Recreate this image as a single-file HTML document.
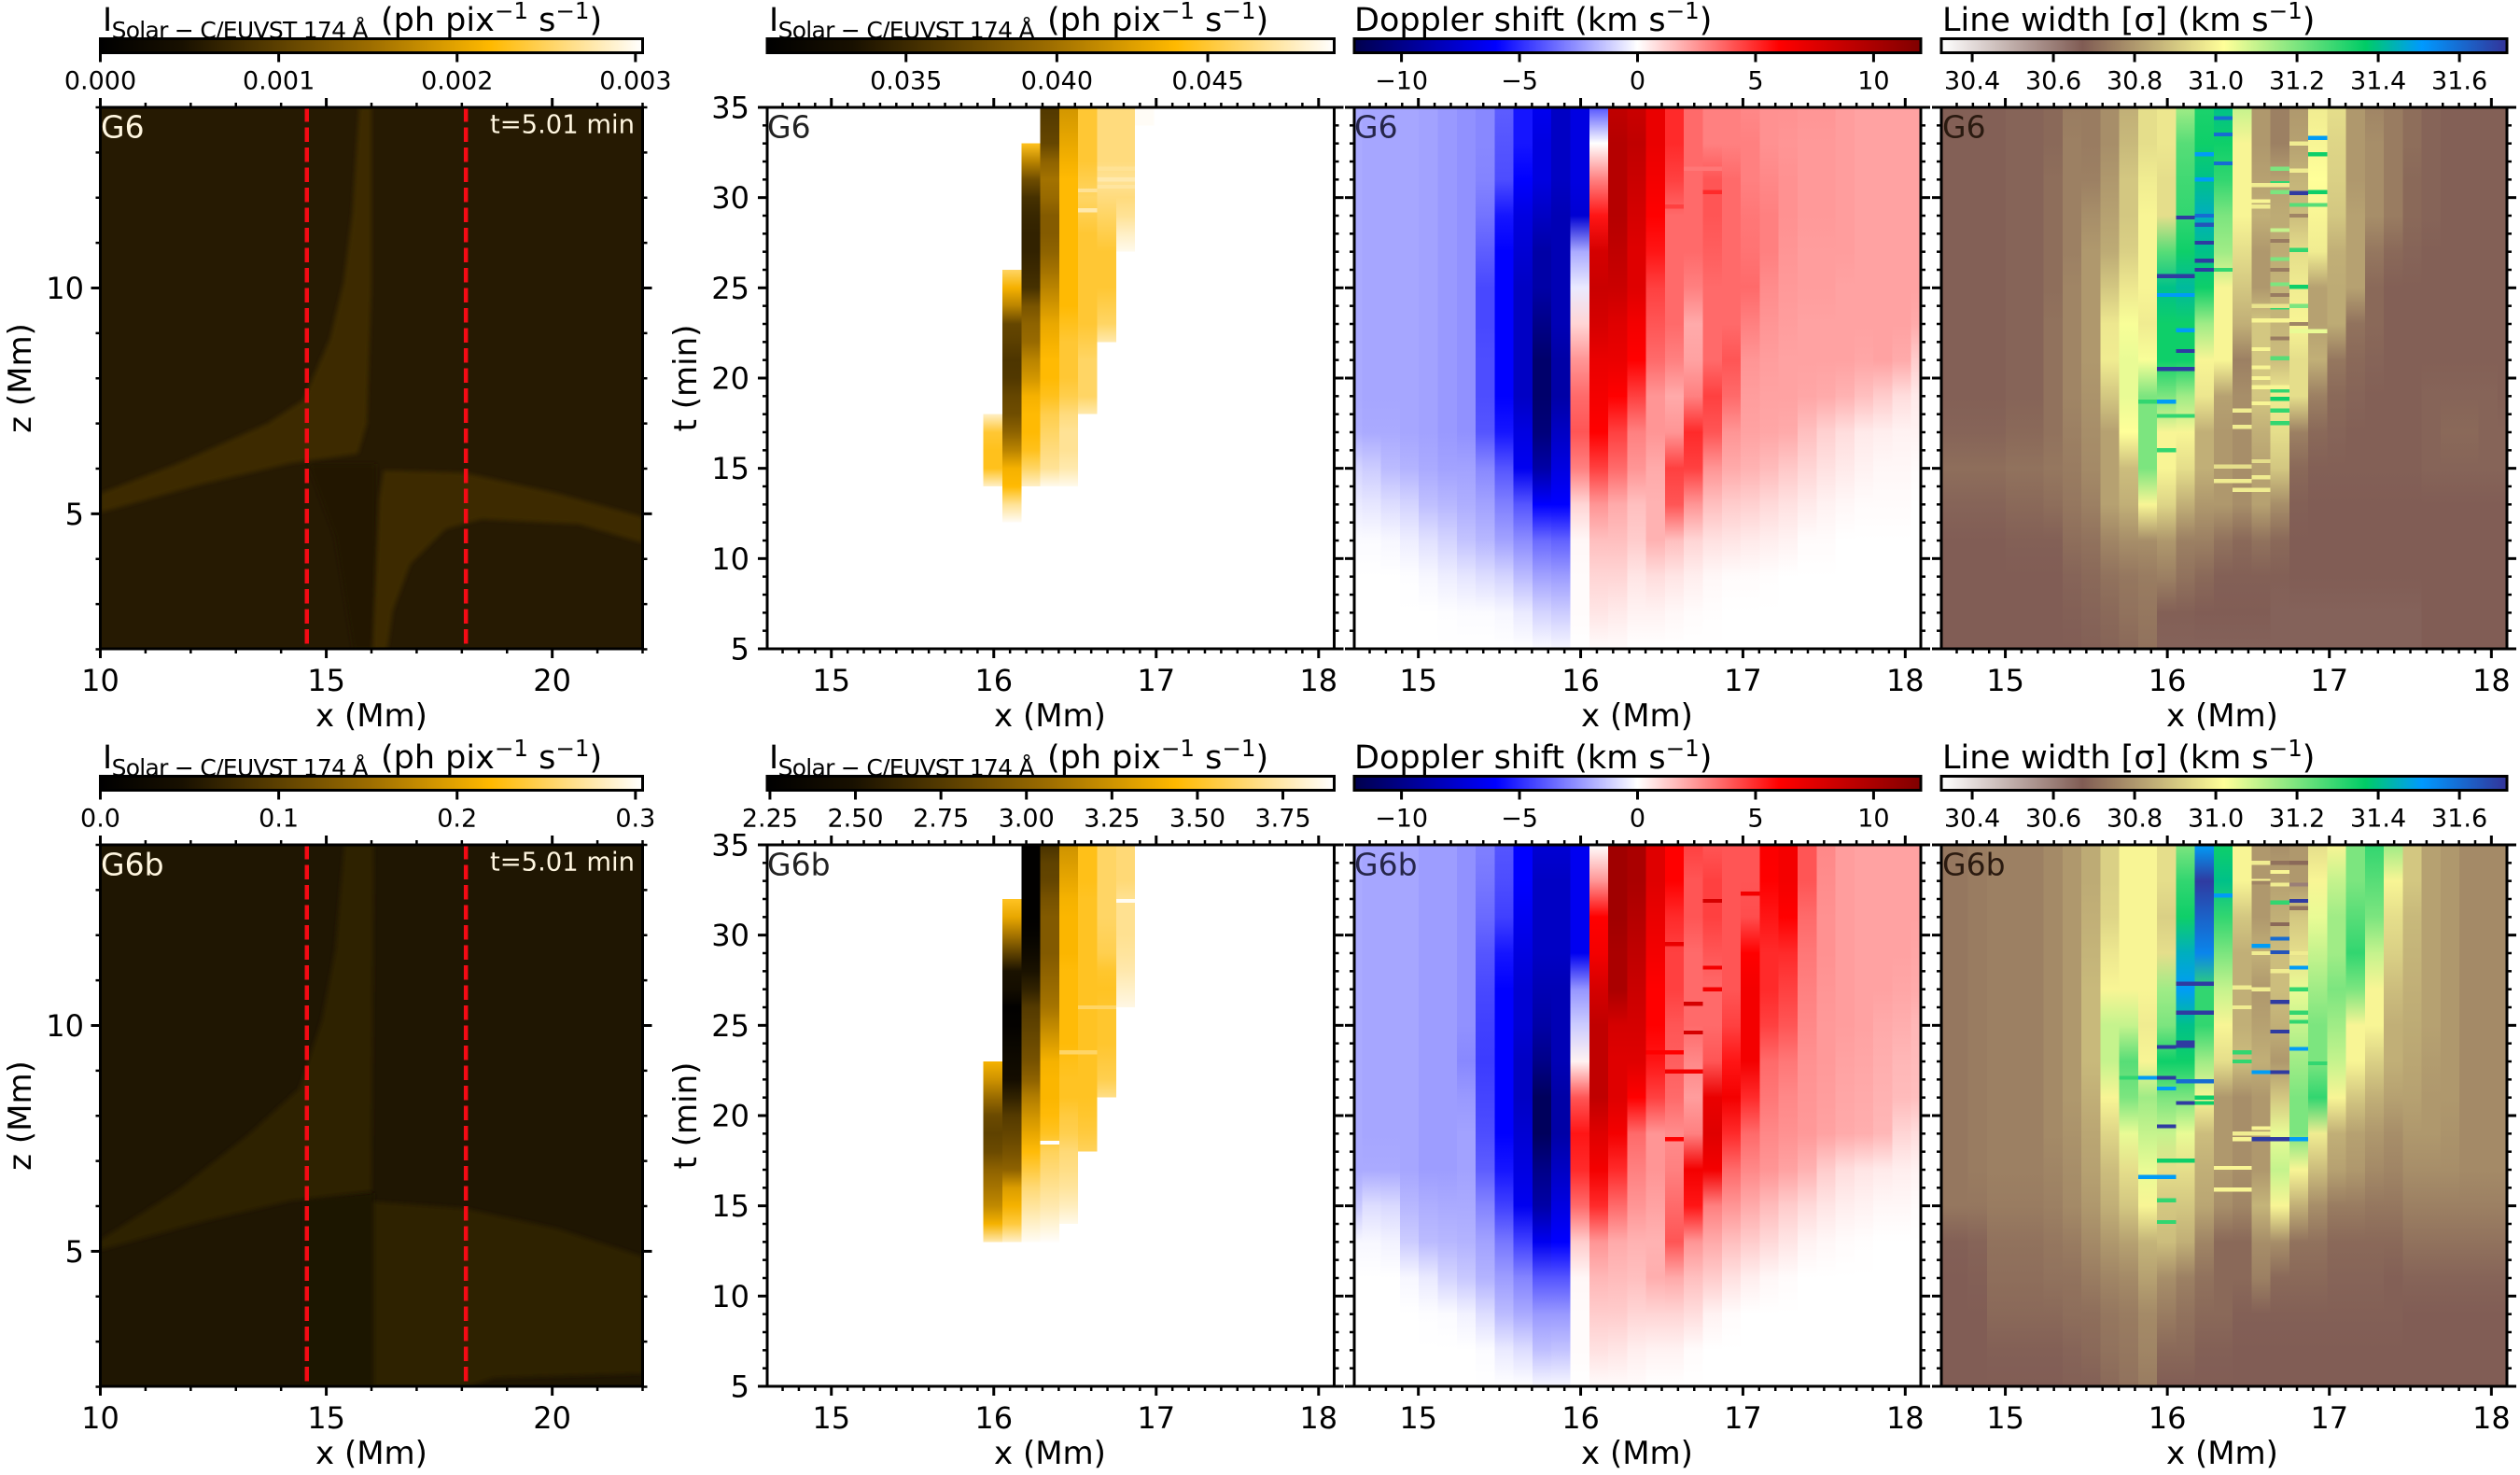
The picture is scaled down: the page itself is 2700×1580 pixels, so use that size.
<!DOCTYPE html>
<html lang="en">
<head>
<meta charset="utf-8">
<title>Solar-C/EUVST 174 Å synthetic observables, G6 and G6b</title>
<style>
html,body{margin:0;padding:0;background:#fff}
svg{display:block}
text{font-family:"DejaVu Sans","Liberation Sans",sans-serif}
</style>
</head>
<body>
<svg id="figure" xmlns="http://www.w3.org/2000/svg" width="2700" height="1580" viewBox="0 0 2700 1580">
<rect x="0" y="0" width="2700" height="1580" fill="#ffffff"/>
<defs id="defs"><filter id="soft"><feGaussianBlur stdDeviation="2.5"/></filter></defs>
</svg>
<script>
const _ = null;
// ---- shared axes values ----
const tSamples = [35,33,31,29,27,25,23,21,19,17,15,13,11,9,7,5];
const tFine = [35,34,33,32,31,30,29,28,27,26,25,24,23,22,21,20,19,18,17,16,15,14,13,12];
const firstColumnEdge = 14.536;
const columnWidth = 0.1167;
const slitPositions = [14.57, 18.09];
const mapXTicks = [10,15,20];
const mapXMinor = [11,12,13,14,16,17,18,19,21,22];
const mapZTicks = [5,10];
const mapZMinor = [2,3,4,6,7,8,9,11,12,13,14];
const stackXTicks = [15,16,17,18];
const stackTTicks = [5,10,15,20,25,30,35];
const dopplerTicks = [-10,-5,0,5,10];
const dopplerTickLabels = ['−10','−5','0','5','10'];
const widthTicks = [30.4,30.6,30.8,31.0,31.2,31.4,31.6];
const widthTickLabels = ['30.4','30.6','30.8','31.0','31.2','31.4','31.6'];
const mapCbarTicksG6 = [0,0.001,0.002,0.003];
const mapCbarLabelsG6 = ['0.000','0.001','0.002','0.003'];
const mapCbarTicksG6b = [0,0.1,0.2,0.3];
const mapCbarLabelsG6b = ['0.0','0.1','0.2','0.3'];
const intensityTicksG6 = [0.035,0.040,0.045];
const intensityLabelsG6 = ['0.035','0.040','0.045'];
const intensityTicksG6b = [2.25,2.5,2.75,3,3.25,3.5,3.75];
const intensityLabelsG6b = ['2.25','2.50','2.75','3.00','3.25','3.50','3.75'];

// ---- map panel outlines [x Mm, z Mm] ----
const bandUpperG6 = [[10,5.03],[12.22,5.65],[14.2,6.12],[15.7,6.33],[15.9,7],[16,10.1],[16,14],[15.73,14],[15.58,11.67],[15.38,10.11],[15.08,8.87],[14.49,7.52],[13.7,7],[11.73,6.12],[10,5.45]];
const bandLowerG6 = [[16.17,5.34],[16.27,5.96],[18.05,5.91],[20.12,5.45],[22,4.93],[22,4.36],[20.6,4.77],[18.44,4.88],[17.65,4.67],[16.86,3.89],[16.47,2.85],[16.35,2],[16.02,2]];
const shadeG6 = [[14.6,6.1],[16.1,6.1],[16.1,2],[15.6,2],[15.2,4.5]];
const bandUpperG6b = [[10,5.03],[12.22,5.65],[14.2,6.12],[16,6.33],[16.05,14],[15.4,14],[15.2,11.67],[14.9,10.1],[14.4,8.6],[13.3,7.6],[11.73,6.36],[10,5.25]];
const bandLowerG6b = [[16.05,6.1],[18.05,5.95],[20.12,5.5],[22,4.88],[22,2.3],[18.7,2.2],[18.1,2],[16.05,2]];
const shadeG6b = [[14.5,6.15],[16.05,6.3],[16.05,2],[14.5,2]];

// ---- intensity time-distance values, columns 12..20 ----
const intensityG6 = [
[_,_,_,_,_,_,_,_,_,_,_,_,_,_,_,_,_,48,45,44.5,44.5,48,_,_],
[_,_,_,_,_,_,_,_,_,46,43.5,41,37,36.5,35.8,36,37,37.5,39,41,43.5,44,47,49],
[_,_,44.5,41,37.5,35.5,34.8,34.5,34.5,35,35.5,38,39,39.5,41,42,43.5,44,44,44.5,46,48,_,_],
[36,36.5,37,39,40,39.5,38.5,38.5,39,40,41,42,43,43.5,44,44,44.5,45.5,46,46.5,47,48.8,_,_],
[42,42.5,43,43.5,44,44,44,44,44,44,44,44,44.5,45,45,45,45.5,46.5,47,47,47.5,48.8,_,_],
[45,45,45,45,45.5,46,45.5,45,45,45,45,45,45,45.5,46,46,46,47.5,_,_,_,_,_,_],
[46.5,46.5,46.5,46.5,47,46.5,46,45.5,45,45,45,45.5,46,47.5,_,_,_,_,_,_,_,_,_,_],
[46.5,46.5,46.5,46.5,47,46.5,47,48,48.8,_,_,_,_,_,_,_,_,_,_,_,_,_,_,_],
[49,49,_,_,_,_,_,_,_,_,_,_,_,_,_,_,_,_,_,_,_,_,_,_]
];
const intensityG6b = [
[_,_,_,_,_,_,_,_,_,_,_,_,3.4,3.25,3.05,2.85,2.8,2.85,3,3.1,3.2,3.4,3.75,_],
[_,_,_,3.5,3.35,3.1,2.8,2.5,2.45,2.26,2.28,2.35,2.4,2.45,2.6,2.75,2.82,2.9,3,3.3,3.4,3.55,3.8,_],
[2.26,2.26,2.26,2.26,2.26,2.3,2.4,2.5,2.6,2.75,2.8,2.85,2.9,3,3.15,3.25,3.35,3.45,3.55,3.65,3.72,3.8,3.88,_],
[2.7,2.8,2.82,2.9,2.95,2.95,2.95,3,3.05,3.1,3.2,3.3,3.4,3.42,3.42,3.45,3.5,3.6,3.65,3.7,3.75,3.82,3.89,_],
[3.25,3.3,3.35,3.4,3.42,3.42,3.42,3.45,3.45,3.45,3.45,3.45,3.48,3.5,3.5,3.55,3.58,3.65,3.68,3.72,3.78,3.86,_,_],
[3.48,3.48,3.48,3.5,3.5,3.5,3.5,3.5,3.5,3.5,3.5,3.5,3.5,3.5,3.5,3.52,3.55,3.6,_,_,_,_,_,_],
[3.62,3.62,3.62,3.62,3.62,3.6,3.58,3.52,3.5,3.52,3.52,3.52,3.55,3.58,3.68,_,_,_,_,_,_,_,_,_],
[3.65,3.65,3.65,3.7,3.7,3.7,3.72,3.75,3.8,3.85,_,_,_,_,_,_,_,_,_,_,_,_,_,_]
];
// streaks: [first column, last column, time, value]
const intensityStreaksG6 = [[18,19,31.6,47],[18,19,31,47.5],[18,19,30.6,47.2],[17,17,30.4,47],[17,17,29.3,47.5]];
const intensityStreaksG6b = [[15,15,18.5,3.9],[19,19,31.9,3.88],[16,17,23.5,3.62],[17,18,26,3.62]];

// ---- Doppler values (km/s), columns 0..30, rows follow tSamples ----
const dopplerG6 = [
[-2,-2,-2,-2,-2,-2,-2,-2,-2,-1.9,-1,-.5,-.1,0,0,0],
[-2.1,-2.1,-2.1,-2.1,-2.1,-2.1,-2.1,-2.1,-2.1,-2,-1.2,-.6,-.1,0,0,0],
[-2.1,-2.1,-2.1,-2.1,-2.1,-2.1,-2.1,-2.1,-2.1,-2,-1.6,-.8,-.2,0,0,0],
[-2.1,-2.1,-2.1,-2.1,-2.1,-2.1,-2.1,-2.1,-2.1,-2.1,-1.8,-1,-.4,-.05,0,0],
[-2.2,-2.2,-2.2,-2.2,-2.2,-2.2,-2.2,-2.2,-2.2,-2.2,-2,-1.5,-.7,-.2,0,0],
[-2.4,-2.4,-2.4,-2.4,-2.4,-2.4,-2.4,-2.4,-2.4,-2.4,-2.2,-1.7,-1,-.4,-.05,0],
[-2.6,-2.6,-2.6,-2.6,-2.6,-2.6,-2.6,-2.6,-2.6,-2.6,-2.2,-1.9,-1.4,-.6,-.1,0],
[-2.8,-2.8,-2.9,-3.3,-3.8,-4.3,-4.3,-4.2,-4.2,-4,-2.8,-2.2,-1.7,-.8,-.1,0],
[-3.8,-4,-4.2,-5.5,-6,-6,-6,-6,-6,-5.5,-4,-3,-2.2,-1,-.2,0],
[-5.5,-5.5,-6,-7,-7.5,-8,-8,-8,-8,-7,-6.5,-4,-2.7,-1.6,-.5,0],
[-6.5,-7,-7,-8,-9,-9,-10,-11,-11,-10.5,-9,-6,-3.5,-2.2,-1,-.1],
[-8,-8,-8,-8.5,-8.5,-8.5,-8.5,-9,-9,-8,-7,-6,-3.7,-2.3,-1.2,-.2],
[-7,-7,-7,-7.5,-2,-.5,1,2.5,3.5,4,3,1,.2,.1,.1,0],
[-4,0,3,5.5,8,8.5,8,7,6.5,6,4.5,2.5,1.5,1,.6,.1],
[9,9.5,9.5,9.5,9,8.5,7.5,7,6,4.5,3.5,2,1.5,1,.5,.1],
[8.5,9,8.5,8,7.5,7.5,6.5,6,4.5,3,2.5,1.5,1.2,.6,.3,0],
[7,7,6.5,6,5.5,4.5,4,3.5,2.5,2.5,2,1.8,1.8,.8,.3,0],
[5,5,4.5,3.5,3.5,3.5,3.5,3,2,2.5,4.5,4,1.5,.6,.2,0],
[3.5,3.5,3.5,3.5,3.5,3,2,2.2,3,5,4.5,2.5,1,.4,.1,0],
[3,3,4,4,3.8,3.5,3.5,3.5,4.5,4,2.5,1.5,.7,.2,.05,0],
[3,3,3.5,3.5,3.5,3.5,3.5,4,3.5,2.5,2,1.2,.6,.1,0,0],
[2.8,3,3,3.2,3.3,3.5,3,2.5,2.3,2.2,1.8,1.1,.5,.1,0,0],
[2.6,2.6,2.8,3,3,2.7,2.5,2.3,2.2,2.1,1.6,.9,.4,.05,0,0],
[2.6,2.5,2.6,2.6,2.5,2.4,2.3,2.2,2.2,2,1.3,.7,.3,0,0,0],
[2.5,2.4,2.4,2.4,2.3,2.3,2.2,2.2,2.1,1.5,1,.5,.1,0,0,0],
[2.5,2.4,2.4,2.4,2.3,2.3,2.2,2.2,2,1.1,.7,.3,.1,0,0,0],
[2.3,2.3,2.3,2.3,2.3,2.2,2.2,2.2,1.8,.8,.5,.2,0,0,0,0],
[2.2,2.2,2.2,2.2,2.2,2.2,2.2,2.1,1.5,.5,.3,.1,0,0,0,0],
[2.2,2.2,2.2,2.2,2.2,2.2,2.2,2.2,1.2,.4,.2,.1,0,0,0,0],
[2.2,2.2,2.2,2.2,2.2,2.2,2.2,2,.8,.3,.2,.1,0,0,0,0],
[2.2,2.2,2.2,2.2,2.2,2.2,2,1.2,.5,.3,.1,0,0,0,0,0]
];
const dopplerG6b = [
[-2,-2,-2,-2,-2,-2,-2,-2,-2,-2,-1.3,-.2,0,0,0,0],
[-2.1,-2.1,-2.1,-2.1,-2.1,-2.1,-2.1,-2.1,-2.1,-2,-.8,-.2,0,0,0,0],
[-2.1,-2.1,-2.1,-2.1,-2.1,-2.1,-2.1,-2.1,-2.1,-2,-.9,-.3,0,0,0,0],
[-2.1,-2.1,-2.1,-2.1,-2.1,-2.1,-2.1,-2.1,-2.1,-2.1,-1.7,-1.2,-.2,0,0,0],
[-2.3,-2.3,-2.3,-2.3,-2.3,-2.3,-2.3,-2.3,-2.3,-2.3,-1.9,-1.6,-.5,-.05,0,0],
[-2.3,-2.3,-2.3,-2.3,-2.3,-2.3,-2.3,-2.3,-2.3,-2.3,-2,-1.7,-1,-.1,0,0],
[-2.6,-2.6,-2.6,-2.6,-2.6,-2.6,-2.8,-2.4,-2.2,-2.2,-2,-1.8,-1.3,-.3,0,0],
[-3,-3.2,-3.5,-4,-4.3,-4.5,-4.6,-4.4,-4.2,-3.8,-2.9,-2.2,-1.8,-.8,-.1,0],
[-4,-4.2,-4.5,-5.5,-6,-6,-6,-6,-6,-5.5,-4.5,-3.2,-2.3,-1.6,-.5,0],
[-6,-6,-6.5,-7,-7.5,-7.5,-8,-8,-7.5,-7,-6.5,-4.5,-2.9,-2,-.8,0],
[-7.5,-8,-8,-8,-8.5,-9,-10,-11.5,-11.5,-10,-9,-6.5,-4,-2.4,-1.5,-.2],
[-7.5,-8,-8,-8,-8.5,-8.5,-8.5,-9,-9,-8,-7,-6,-4,-2.4,-1.4,-.2],
[-6.5,-6.5,-6.5,-6.5,-2.5,-1.2,.3,4,5.5,5,3.5,1.2,.2,.1,.1,0],
[0,2.5,6,6.5,8,9,9,9,7.5,6.5,5,2.5,1.7,1.2,.7,.1],
[10.5,10.5,10.5,10,10,8,7.5,7.5,6.5,5,3.5,2,1.6,1.2,.6,.1],
[10,10,9.5,9,8.5,8,7.5,6,3.5,3,2.5,1.8,1.5,1,.4,.1],
[7.5,7.5,7,6.5,6,6,5.5,4.5,2.5,2.5,2.2,1.8,1.9,1,.3,0],
[6,6,5,4.5,4.5,4,3.8,3.5,2.7,3,3.5,4,2,1,.3,0],
[4.5,4,4,3.5,3.5,3.5,2.8,2.3,3,6.5,5.5,2.5,1.5,.8,.1,0],
[4,4.5,4.5,4,3.5,3.5,4,7,7.5,6.5,3,2,1.2,.3,0,0],
[4,4,4,4,4,4.5,5.5,6.5,5,3.5,2.5,1.5,.7,.1,0,0],
[4,4,4.2,6,6.5,6.5,6.5,5,3.5,2.8,2,1.2,.4,0,0,0],
[6.2,6,5.5,5,5,4.5,3.5,3.2,2.8,2.5,1.6,.9,.2,0,0,0],
[6.5,6.5,6,5,4.5,4,3.2,2.8,2.6,2.2,1.2,.6,.1,0,0,0],
[4,4,3.5,3.2,3,2.8,2.6,2.5,2.4,1.8,.9,.3,0,0,0,0],
[2.8,2.7,2.6,2.6,2.5,2.4,2.4,2.3,2.2,1.2,.6,.2,0,0,0,0],
[2.3,2.3,2.3,2.3,2.3,2.3,2.2,2.1,2,.8,.4,.1,0,0,0,0],
[2.2,2.2,2.2,2.2,2.2,2.2,2.1,2,1.9,.6,.3,.05,0,0,0,0],
[2.2,2.2,2.2,2.2,2.2,2,1.9,1.8,1.7,.5,.2,0,0,0,0,0],
[2.2,2.2,2.2,2.2,2.1,1.9,1.7,1.6,1,.4,.2,0,0,0,0,0],
[2.2,2.2,2.2,2.1,2,1.7,1.6,1.5,.8,.3,.1,0,0,0,0,0]
];
const dopplerStreaksG6 = [[19,19,30.3,5],[17,17,29.5,4.5],[18,19,31.6,3.2]];
const dopplerStreaksG6b = [[19,19,31.9,8],[17,17,29.5,7],[19,19,28.2,6.5],[19,19,27,6.5],[18,18,26.2,8],[18,18,24.6,8],[16,17,23.5,6],[17,18,22.45,6.5],[21,21,32.3,6.5],[17,17,18.7,6]];

// ---- Line width values (km/s), columns 0..30, rows follow tSamples ----
const widthG6 = [
[30.68,30.68,30.68,30.68,30.68,30.68,30.68,30.68,30.68,30.69,30.71,30.69,30.67,30.67,30.67,30.67],
[30.68,30.68,30.68,30.68,30.68,30.68,30.68,30.68,30.68,30.69,30.71,30.69,30.67,30.67,30.67,30.67],
[30.68,30.68,30.68,30.68,30.68,30.68,30.68,30.68,30.68,30.69,30.71,30.69,30.67,30.67,30.67,30.67],
[30.68,30.68,30.68,30.68,30.68,30.68,30.68,30.68,30.68,30.69,30.71,30.69,30.67,30.67,30.67,30.67],
[30.69,30.69,30.69,30.69,30.69,30.69,30.69,30.69,30.69,30.7,30.72,30.7,30.68,30.67,30.67,30.67],
[30.69,30.69,30.69,30.69,30.69,30.69,30.69,30.69,30.69,30.7,30.72,30.7,30.68,30.67,30.67,30.67],
[30.7,30.7,30.71,30.71,30.71,30.71,30.72,30.72,30.72,30.72,30.73,30.71,30.68,30.67,30.67,30.67],
[30.74,30.75,30.75,30.75,30.75,30.76,30.76,30.76,30.76,30.75,30.74,30.73,30.71,30.69,30.68,30.67],
[30.74,30.74,30.75,30.78,30.8,30.8,30.8,30.8,30.79,30.78,30.77,30.75,30.72,30.7,30.69,30.68],
[30.78,30.78,30.8,30.82,30.84,30.9,30.97,30.98,30.9,30.82,30.82,30.82,30.76,30.72,30.7,30.69],
[30.85,30.87,30.9,30.9,30.92,30.97,31.03,31.05,31.05,31.02,30.88,30.85,30.78,30.73,30.72,30.7],
[30.95,30.95,30.98,31,31,31,30.98,31.03,31.2,31.2,31.2,31,30.78,30.74,30.73,30.72],
[30.97,30.97,30.95,30.95,31.25,31.4,31.35,31.35,31.2,31,31,30.93,30.8,30.75,30.68,30.66],
[31.15,31.25,31.28,31.3,31.35,31.42,31.35,31.35,31.15,31,30.95,30.85,30.75,30.72,30.68,30.66],
[31.33,31.35,31.4,31.45,31.4,31.35,31.15,31,30.97,30.85,30.85,30.8,30.75,30.7,30.67,30.66],
[31.4,31.35,31.3,31.2,31.15,31,31,31,30.82,30.8,30.8,30.8,30.72,30.68,30.67,30.66],
[31.1,31,31,31,30.95,30.9,30.85,30.75,30.78,30.78,30.78,30.78,30.7,30.68,30.67,30.66],
[30.8,30.8,30.82,30.85,30.8,30.8,30.9,30.9,30.9,30.85,30.82,30.82,30.72,30.68,30.67,30.66],
[30.75,30.75,30.82,30.84,30.84,30.86,30.86,30.88,30.98,30.95,30.9,30.78,30.7,30.68,30.66,30.66],
[30.8,30.82,30.86,30.88,30.95,30.98,31,30.95,30.95,30.75,30.7,30.68,30.67,30.67,30.66,30.66],
[30.98,31,31.02,31,30.98,30.82,30.82,30.85,30.75,30.7,30.68,30.67,30.67,30.67,30.66,30.66],
[30.95,30.93,30.92,30.9,30.85,30.84,30.84,30.73,30.7,30.69,30.68,30.67,30.67,30.67,30.66,30.66],
[30.8,30.8,30.8,30.82,30.82,30.82,30.72,30.7,30.69,30.68,30.68,30.67,30.67,30.67,30.66,30.66],
[30.76,30.78,30.78,30.78,30.73,30.7,30.7,30.69,30.68,30.68,30.68,30.67,30.67,30.67,30.66,30.66],
[30.74,30.74,30.74,30.74,30.7,30.68,30.68,30.68,30.68,30.68,30.68,30.67,30.67,30.67,30.66,30.66],
[30.71,30.71,30.7,30.7,30.69,30.68,30.68,30.68,30.68,30.68,30.68,30.67,30.67,30.67,30.66,30.66],
[30.69,30.69,30.69,30.69,30.68,30.68,30.68,30.68,30.69,30.69,30.69,30.67,30.67,30.67,30.67,30.67],
[30.68,30.68,30.68,30.68,30.68,30.68,30.68,30.68,30.69,30.7,30.69,30.67,30.67,30.67,30.67,30.67],
[30.68,30.68,30.68,30.68,30.68,30.68,30.68,30.68,30.69,30.7,30.69,30.67,30.67,30.67,30.67,30.67],
[30.68,30.68,30.68,30.68,30.68,30.68,30.68,30.68,30.69,30.69,30.69,30.67,30.67,30.67,30.67,30.67],
[30.68,30.68,30.68,30.68,30.68,30.68,30.68,30.68,30.68,30.69,30.69,30.67,30.67,30.67,30.67,30.67]
];
const widthG6b = [
[30.73,30.73,30.73,30.73,30.73,30.73,30.73,30.73,30.73,30.73,30.73,30.68,30.67,30.67,30.67,30.67],
[30.73,30.73,30.73,30.73,30.73,30.73,30.73,30.73,30.73,30.73,30.73,30.68,30.67,30.67,30.67,30.67],
[30.74,30.74,30.74,30.74,30.74,30.74,30.74,30.74,30.74,30.74,30.73,30.69,30.68,30.67,30.67,30.67],
[30.75,30.75,30.75,30.75,30.75,30.75,30.75,30.75,30.75,30.75,30.74,30.72,30.71,30.7,30.68,30.67],
[30.75,30.75,30.75,30.75,30.75,30.75,30.75,30.75,30.75,30.75,30.74,30.72,30.71,30.7,30.68,30.67],
[30.75,30.75,30.75,30.75,30.75,30.75,30.75,30.75,30.75,30.75,30.74,30.72,30.71,30.7,30.68,30.67],
[30.77,30.77,30.77,30.77,30.77,30.77,30.77,30.77,30.77,30.76,30.75,30.73,30.72,30.7,30.68,30.67],
[30.8,30.8,30.8,30.8,30.8,30.8,30.8,30.8,30.79,30.78,30.77,30.74,30.72,30.71,30.69,30.68],
[30.84,30.84,30.85,30.86,30.87,30.87,30.87,30.85,30.83,30.82,30.8,30.77,30.74,30.71,30.7,30.68],
[30.92,30.92,30.93,30.97,31,31.1,31.1,31,30.93,30.88,30.85,30.8,30.76,30.73,30.72,30.7],
[31,31,31,31,31,31.1,31.25,31.2,31.05,30.95,30.9,30.82,30.77,30.74,30.73,30.72],
[31,31,31,31,31,30.98,31,31.15,31.1,31.05,31,30.86,30.82,30.77,30.76,30.74],
[30.95,30.95,30.92,30.95,31.15,31.2,31.35,31.2,31.1,30.95,30.9,30.88,30.78,30.74,30.7,30.67],
[31.2,31.3,31.35,31.45,31.5,31.4,31.35,31.2,31.05,30.95,30.9,30.85,30.75,30.72,30.7,30.67],
[31.5,31.7,31.62,31.55,31.3,31.3,31.15,31,30.88,30.85,30.83,30.76,30.72,30.7,30.68,30.67],
[31.35,31.4,31.3,31.2,31.1,31,30.95,30.8,30.8,30.8,30.78,30.7,30.7,30.7,30.68,30.67],
[31,31,30.9,30.85,30.85,30.85,30.88,30.78,30.78,30.78,30.76,30.7,30.7,30.68,30.67,30.67],
[30.8,30.8,30.8,30.85,30.8,30.82,30.85,30.8,30.8,30.8,30.86,30.78,30.75,30.68,30.67,30.67],
[30.78,30.82,30.85,30.88,30.88,30.85,30.8,30.9,31.05,31.1,31,30.78,30.7,30.68,30.67,30.67],
[30.8,30.8,30.9,30.95,31.05,31.1,31.15,31.2,31.2,31,30.85,30.72,30.7,30.68,30.67,30.67],
[30.95,31,31.05,31.1,31.15,31.2,31.2,31.3,30.98,30.88,30.78,30.72,30.7,30.68,30.67,30.67],
[31,31.1,31.15,31.15,31.2,31.15,31.1,31,30.85,30.82,30.74,30.7,30.69,30.68,30.67,30.67],
[31.2,31.2,31.25,31.3,31.2,31,31,30.9,30.82,30.8,30.74,30.7,30.69,30.68,30.67,30.67],
[31.3,31.25,31.2,31.1,31,31,30.92,30.85,30.8,30.77,30.73,30.7,30.69,30.68,30.67,30.67],
[31.15,31,30.95,30.92,30.88,30.85,30.85,30.82,30.78,30.76,30.73,30.7,30.68,30.68,30.67,30.67],
[30.9,30.9,30.87,30.86,30.85,30.84,30.83,30.82,30.8,30.78,30.75,30.72,30.69,30.67,30.67,30.67],
[30.82,30.82,30.82,30.82,30.82,30.82,30.81,30.8,30.8,30.78,30.75,30.72,30.69,30.67,30.67,30.67],
[30.8,30.8,30.8,30.8,30.8,30.8,30.8,30.8,30.79,30.78,30.75,30.72,30.69,30.67,30.67,30.67],
[30.77,30.77,30.77,30.77,30.77,30.77,30.77,30.77,30.77,30.77,30.75,30.72,30.69,30.67,30.67,30.67],
[30.77,30.77,30.77,30.77,30.77,30.77,30.77,30.77,30.77,30.77,30.75,30.72,30.69,30.67,30.67,30.67],
[30.77,30.77,30.77,30.77,30.77,30.77,30.77,30.77,30.77,30.77,30.75,30.72,30.69,30.67,30.67,30.67]
];
const widthStreaksG6 = [
[14,14,32.4,31.5],[14,14,31,31.5],[14,14,29,31.6],[14,14,28.5,31.65],[14,14,27.5,31.7],[14,14,26.5,31.7],[14,14,26,31.7],
[13,13,28.9,31.7],[12,13,25.65,31.7],[12,13,24.6,31.5],[15,15,34.4,31.6],[15,15,33.5,31.6],[15,15,31.9,31.6],[12,13,20.5,31.7],
[13,13,21.5,31.7],[13,13,22.65,31.5],[12,12,18.7,31.5],[11,11,18.7,31.3],[12,13,17.9,31.3],[12,12,16,31.3],[20,20,33.3,31.5],
[20,20,32.4,31.35],[20,20,30.3,31.35],[19,19,30.25,31.7],[19,20,29.6,31.25],[18,18,31.6,31.2],[18,18,30.8,31.3],[18,18,30.3,31.2],
[18,18,28.2,31.1],[18,18,26.6,31.2],[18,18,25.2,31.2],[18,18,23.9,31.3],[18,18,21.1,31.25],[18,18,19.3,31.3],[18,18,18.85,31.35],
[18,18,18.2,31.3],[18,18,17.5,31.3],[19,19,25.05,31.35],[19,19,27.1,31.3],[15,16,14.3,30.98],[15,15,26,31.3],[17,17,29.5,30.98],
[16,16,17.3,30.98],[17,17,20.6,31],[15,16,15.1,30.95],[17,18,24,30.96],[19,19,33,30.98],[19,19,31.5,30.98],[17,17,15.4,30.95],
[17,18,30.7,30.98],[17,17,29.8,31],[17,18,23.2,31],[17,17,21.6,31],[17,17,20,31],[17,18,19.5,31],[17,17,18.6,31],[16,17,13.8,30.98],
[17,17,14.5,30.98],[16,16,18.2,30.98],[19,19,24,31.2],[19,20,22.6,31.05],[18,18,27.6,30.74],[18,18,26,30.74],[19,19,29,30.76],
[19,19,23,30.76],[18,18,22.2,30.74],[18,18,24.6,30.74]
];
const widthStreaksG6b = [
[13,14,27.3,31.7],[13,14,25.7,31.7],[13,13,24.05,31.7],[13,13,23.85,31.7],[12,12,23.8,31.7],[10,10,22.1,31.3],[11,11,22.1,31.5],[12,12,22.1,31.7],
[12,12,21.5,31.5],[13,14,21.9,31.6],[13,13,20.7,31.7],[14,14,21,31.35],[14,14,20.7,31.35],[12,12,19.4,31.7],[12,13,17.5,31.35],[11,12,16.6,31.5],
[12,12,15.3,31.3],[12,12,14.1,31.3],[15,15,32.2,31.5],[17,17,29.4,31.5],[18,18,29.8,31.6],[18,18,29.05,31.65],[19,19,31.9,31.7],[19,19,28.2,31.5],
[18,18,26.3,31.7],[18,18,24.65,31.7],[18,18,22.4,31.7],[17,17,22.4,31.5],[17,18,18.7,31.7],[19,19,18.7,31.5],[19,19,23.7,31.5],[16,16,23.5,31.3],
[16,16,23,31.3],[18,18,31.8,31.3],[15,16,15.9,31],[15,16,17.1,31],[19,19,25.2,31.3],[20,20,22.9,31.3],[17,17,33,31],[18,18,33.5,31],[19,19,32.8,30.6],
[17,17,19.3,31],[16,16,18.7,31],[17,17,34,30.98],[17,17,32.9,30.76],[18,18,34,30.72],[19,19,34,30.7],[18,18,32.8,30.98],[19,19,31.5,30.72],
[18,18,30.6,30.7],[17,17,29,30.98],[17,17,27,30.98],[16,16,27.1,30.98],[16,16,26,30.98],[19,19,29,30.98],[18,18,28,30.98],[19,19,27,31.3],[19,19,25.7,31.3],[16,17,19,30.98]
];

// ---- colormaps ----
const sunStops = [[0,[0,0,0]],[.15,[24,16,0]],[.5,[158,110,0]],[.72,[255,185,0]],[1,[255,255,255]]];
const seismicStops = [[0,[0,0,77]],[.25,[0,0,255]],[.5,[255,255,255]],[.75,[255,0,0]],[1,[128,0,0]]];
const terrainStops = [[0,[255,255,255]],[.25,[128,92,84]],[.5,[255,255,153]],[.75,[0,204,102]],[.85,[0,153,255]],[1,[51,51,153]]];

const NS = 'http://www.w3.org/2000/svg';
const fig = document.getElementById('figure');
const defs = document.getElementById('defs');

function scale(d0, d1, r0, r1) { return v => r0 + (v - d0) / (d1 - d0) * (r1 - r0); }
function cmap(stops, p) {
  p = Math.max(0, Math.min(1, p));
  for (let i = 1; i < stops.length; i++) {
    if (p <= stops[i][0]) {
      const a = stops[i-1], b = stops[i], f = (p - a[0]) / (b[0] - a[0]);
      return 'rgb(' + [0,1,2].map(k => Math.round(a[1][k] + f * (b[1][k] - a[1][k]))).join(',') + ')';
    }
  }
  return 'rgb(' + stops[stops.length-1][1].join(',') + ')';
}
function mk(tag, attrs, parent) {
  const el = document.createElementNS(NS, tag);
  for (const k in attrs) el.setAttribute(k, attrs[k]);
  if (parent) parent.appendChild(el);
  return el;
}
function label(parent, x, y, s, size, anchor, fill, name, rot) {
  const el = mk('text', {x: x, y: y, 'font-size': size, 'text-anchor': anchor, fill: fill}, parent);
  if (rot) el.setAttribute('transform', 'rotate(-90 ' + x + ' ' + y + ')');
  el.textContent = s;
  
  
  return el;
}
function tick(parent, x1, y1, x2, y2, w, name) {
  const el = mk('line', {x1: x1, y1: y1, x2: x2, y2: y2, stroke: '#000', 'stroke-width': w}, parent);
  
  
}
function frame(parent, box, name) {
  const el = mk('rect', {x: box.l, y: box.t, width: box.r - box.l, height: box.b - box.t, fill: 'none', stroke: '#000', 'stroke-width': 3}, parent);
  
  
}
function range(a, b, step) { const out = []; const n = Math.round((b - a) / step); for (let i = 0; i <= n; i++) out.push(+(a + i * step).toFixed(4)); return out; }

let clipCount = 0, gradCount = 0;
const gradCache = {};
function clipFor(box) {
  const id = 'clip' + (clipCount++);
  const c = mk('clipPath', {id: id}, defs);
  mk('rect', {x: box.l, y: box.t, width: box.r - box.l, height: box.b - box.t}, c);
  return 'url(#' + id + ')';
}
function gradFor(c0, c1) {
  if (c0 === c1) return c0;
  const key = c0 + c1;
  if (!gradCache[key]) {
    const id = 'g' + (gradCount++);
    const g = mk('linearGradient', {id: id, x1: 0, y1: 0, x2: 0, y2: 1}, defs);
    mk('stop', {offset: 0, 'stop-color': c0}, g);
    mk('stop', {offset: 1, 'stop-color': c1}, g);
    gradCache[key] = 'url(#' + id + ')';
  }
  return gradCache[key];
}

// heatmap columns of cells: each cell is one rectangle between two time samples
function drawHeat(parent, box, xS, yS, times, columns, firstCol, colour) {
  columns.forEach((col, ci) => {
    const c = firstCol + ci;
    const x0 = xS(firstColumnEdge + c * columnWidth);
    const x1 = xS(firstColumnEdge + (c + 1) * columnWidth);
    for (let i = 0; i < times.length - 1; i++) {
      if (col[i] === null || col[i+1] === null) continue;
      const el = mk('rect', {x: x0, y: yS(times[i]), width: x1 - x0, height: yS(times[i+1]) - yS(times[i]), fill: gradFor(colour(col[i]), colour(col[i+1])), 'shape-rendering': 'crispEdges'}, parent);
      
      
    }
  });
}
function drawStreaks(parent, xS, yS, streaks, colour) {
  streaks.forEach(s => {
    const y0 = yS(s[2] + 0.11), y1 = yS(s[2] - 0.11);
    const x0 = xS(firstColumnEdge + s[0] * columnWidth), x1 = xS(firstColumnEdge + (s[1] + 1) * columnWidth);
    const el = mk('rect', {x: x0, y: y0, width: x1 - x0, height: y1 - y0, fill: colour(s[3]), 'shape-rendering': 'crispEdges'}, parent);
    
    
  });
}
function axisTicks(g, box, xS, yS, xMaj, xMin, yMaj, yMin) {
  const maj = 10, min = 5;
  xMaj.forEach(v => { tick(g, xS(v), box.b, xS(v), box.b + maj, 3, 'x-major-tick'); tick(g, xS(v), box.t, xS(v), box.t - maj, 3, 'x-major-tick-top'); });
  xMin.forEach(v => { tick(g, xS(v), box.b, xS(v), box.b + min, 2.5, 'x-minor-tick'); tick(g, xS(v), box.t, xS(v), box.t - min, 2.5, 'x-minor-tick-top'); });
  yMaj.forEach(v => { tick(g, box.l, yS(v), box.l - maj, yS(v), 3, 'y-major-tick'); tick(g, box.r, yS(v), box.r + maj, yS(v), 3, 'y-major-tick-right'); });
  yMin.forEach(v => { tick(g, box.l, yS(v), box.l - min, yS(v), 2.5, 'y-minor-tick'); tick(g, box.r, yS(v), box.r + min, yS(v), 2.5, 'y-minor-tick-right'); });
}
function colorbar(g, box, dy, stops, d0, d1, ticks, labels, name) {
  const bar = {l: box.l, r: box.r, t: 41.5 + dy, b: 56.5 + dy};
  const id = 'cb' + (gradCount++);
  const grad = mk('linearGradient', {id: id, x1: 0, y1: 0, x2: 1, y2: 0}, defs);
  stops.forEach(s => mk('stop', {offset: s[0], 'stop-color': 'rgb(' + s[1].join(',') + ')'}, grad));
  const r = mk('rect', {x: bar.l, y: bar.t, width: bar.r - bar.l, height: bar.b - bar.t, fill: 'url(#' + id + ')'}, g);
  
  
  frame(g, bar, name + '-frame');
  const s = scale(d0, d1, box.l, box.r);
  ticks.forEach((v, i) => {
    tick(g, s(v), bar.b, s(v), bar.b + 10, 3, 'colorbar-tick');
    label(g, s(v), 95.5 + dy, labels[i], 27, 'middle', '#000', 'colorbar-tick-label');
  });
}
function flowTitle(g, x, y, parts, name) {
  const el = mk('text', {x: x, y: y, 'xml:space': 'preserve', style: 'white-space:pre'}, g);
  let last = 0;
  parts.forEach(p => {
    const t = mk('tspan', {'font-size': p[1], dy: p[2] - last}, el);
    t.textContent = p[0];
    last = p[2];
  });
  
  
}
function intensityTitle(g, xOff, dy) {
  label(g, 110 + xOff, 33 + dy, 'I', 34.5, 'start', '#000', 'colorbar-title-symbol');
  const sub = label(g, 119.6 + xOff, 41 + dy, 'Solar − C/EUVST 174 Å', 25, 'start', '#000', 'colorbar-title-subscript');
  sub.setAttribute('textLength', 275);
  flowTitle(g, 408 + xOff, 33 + dy, [['(ph pix',35,0],['−1',24.5,-13],[' s',35,0],['−1',24.5,-13],[')',35,0]], 'colorbar-title-units');
}

const rowSets = [
 {id:'G6', dy:0, polyU:bandUpperG6, polyL:bandLowerG6, shade:shadeG6, bg:'#261a02', band:'#3e2c02', shadeC:'#211702',
  mapTicks:mapCbarTicksG6, mapLabels:mapCbarLabelsG6, mapMax:0.00304,
  inten:intensityG6, intenStreaks:intensityStreaksG6, intenD:[30.4,49.19], intenCbD:[0.0304,0.04919], intenTicks:intensityTicksG6, intenLabels:intensityLabelsG6,
  dop:dopplerG6, dopStreaks:dopplerStreaksG6, wid:widthG6, widStreaks:widthStreaksG6},
 {id:'G6b', dy:790, polyU:bandUpperG6b, polyL:bandLowerG6b, shade:shadeG6b, bg:'#1f1602', band:'#2f2203', shadeC:'#1a1202',
  mapTicks:mapCbarTicksG6b, mapLabels:mapCbarLabelsG6b, mapMax:0.304,
  inten:intensityG6b, intenStreaks:intensityStreaksG6b, intenD:[2.242,3.90], intenCbD:[2.242,3.90], intenTicks:intensityTicksG6b, intenLabels:intensityLabelsG6b,
  dop:dopplerG6b, dopStreaks:dopplerStreaksG6b, wid:widthG6b, widStreaks:widthStreaksG6b}
];
const X0 = 14.605, X1 = 18.096;
const stackMinorX = range(14.7, 18.0, 0.1).filter(v => Math.abs(v - Math.round(v)) > 1e-6);
const stackMinorT = range(5, 35, 1).filter(v => v % 5 !== 0);

rowSets.forEach(R => {
  const dy = R.dy;
  // ---------- map panel ----------
  {
    const box = {l:107.5, r:688.5, t:115 + dy, b:695 + dy};
    const xS = scale(10, 22, box.l, box.r), zS = scale(2, 14, box.b + 0.5, box.t);
    const g = mk('g', {}, fig);
    
    
    intensityTitle(g, 0, dy);
    colorbar(g, box, dy, sunStops, 0, R.mapMax, R.mapTicks, R.mapLabels, 'map-colorbar');
    const inner = mk('g', {'clip-path': clipFor(box)}, g);
    const bg = mk('rect', {x: box.l, y: box.t, width: box.r - box.l, height: box.b - box.t, fill: R.bg}, inner);
    
    
    [[R.shade, R.shadeC, 'map-dark-region'], [R.polyU, R.band, 'map-emission-band-upper'], [R.polyL, R.band, 'map-emission-band-lower']].forEach(p => {
      const poly = mk('polygon', {points: p[0].map(q => xS(q[0]) + ',' + zS(q[1])).join(' '), fill: p[1], filter: 'url(#soft)'}, inner);
      
      
    });
    slitPositions.forEach(v => {
      const ln = mk('line', {x1: xS(v), x2: xS(v), y1: box.t, y2: box.b, stroke: '#f40a14', 'stroke-width': 4.5, 'stroke-dasharray': '15.5 6'}, inner);
      
      
    });
    frame(g, box, 'map-frame');
    axisTicks(g, box, xS, zS, mapXTicks, mapXMinor, mapZTicks, mapZMinor);
    mapXTicks.forEach(v => label(g, xS(v), 740 + dy, String(v), 32, 'middle', '#000', 'x-tick-label'));
    mapZTicks.forEach(v => label(g, 90, zS(v) + 11.5, String(v), 32, 'end', '#000', 'y-tick-label'));
    label(g, 398, 778 + dy, 'x (Mm)', 34, 'middle', '#000', 'x-axis-title');
    label(g, 33, 405 + dy, 'z (Mm)', 34, 'middle', '#000', 'y-axis-title', true);
    label(g, 108, 147.5 + dy, R.id, 33, 'start', '#fff6e0', 'panel-label');
    label(g, 680, 142.5 + dy, 't=5.01 min', 27.4, 'end', '#fff6e0', 'time-label');
  }
  // ---------- intensity panel ----------
  {
    const box = {l:822, r:1429.5, t:115 + dy, b:695 + dy};
    const xS = scale(X0, X1, box.l, box.r), yS = scale(5, 35, box.b, box.t);
    const g = mk('g', {}, fig);
    
    
    intensityTitle(g, 714, dy);
    colorbar(g, box, dy, sunStops, R.intenCbD[0], R.intenCbD[1], R.intenTicks, R.intenLabels, 'intensity-colorbar');
    const inner = mk('g', {'clip-path': clipFor(box)}, g);
    const col = v => cmap(sunStops, (v - R.intenD[0]) / (R.intenD[1] - R.intenD[0]));
    drawHeat(inner, box, xS, yS, tFine, R.inten, 12, col);
    drawStreaks(inner, xS, yS, R.intenStreaks, col);
    frame(g, box, 'intensity-frame');
    axisTicks(g, box, xS, yS, stackXTicks, stackMinorX, stackTTicks, stackMinorT);
    stackXTicks.forEach(v => label(g, xS(v), 740 + dy, String(v), 32, 'middle', '#000', 'x-tick-label'));
    stackTTicks.forEach(v => label(g, 803, yS(v) + 11.5, String(v), 32, 'end', '#000', 'y-tick-label'));
    label(g, 1125, 778 + dy, 'x (Mm)', 34, 'middle', '#000', 'x-axis-title');
    label(g, 746, 405 + dy, 't (min)', 34, 'middle', '#000', 'y-axis-title', true);
    label(g, 822, 147.5 + dy, R.id, 33, 'start', '#222222', 'panel-label');
  }
  // ---------- doppler panel ----------
  {
    const box = {l:1451, r:2058, t:115 + dy, b:695 + dy};
    const xS = scale(X0, X1, box.l, box.r), yS = scale(5, 35, box.b, box.t);
    const g = mk('g', {}, fig);
    
    
    flowTitle(g, 1451, 33 + dy, [['Doppler shift (km s',35,0],['−1',24.5,-13],[')',35,0]], 'colorbar-title');
    colorbar(g, box, dy, seismicStops, -12, 12, dopplerTicks, dopplerTickLabels, 'doppler-colorbar');
    const inner = mk('g', {'clip-path': clipFor(box)}, g);
    const col = v => cmap(seismicStops, (v + 12) / 24);
    drawHeat(inner, box, xS, yS, tSamples, R.dop, 0, col);
    drawStreaks(inner, xS, yS, R.dopStreaks, col);
    frame(g, box, 'doppler-frame');
    axisTicks(g, box, xS, yS, stackXTicks, stackMinorX, stackTTicks, stackMinorT);
    stackXTicks.forEach(v => label(g, xS(v), 740 + dy, String(v), 32, 'middle', '#000', 'x-tick-label'));
    label(g, 1754, 778 + dy, 'x (Mm)', 34, 'middle', '#000', 'x-axis-title');
    const t = label(g, 1451, 147.5 + dy, R.id, 33, 'start', '#10102a', 'panel-label');
    t.setAttribute('opacity', '0.85');
  }
  // ---------- line width panel ----------
  {
    const box = {l:2080, r:2686, t:115 + dy, b:695 + dy};
    const xS = scale(X0, X1, box.l, box.r), yS = scale(5, 35, box.b, box.t);
    const g = mk('g', {}, fig);
    
    
    flowTitle(g, 2081, 33 + dy, [['Line width [σ] (km s',35,0],['−1',24.5,-13],[')',35,0]], 'colorbar-title');
    colorbar(g, box, dy, terrainStops, 30.324, 31.717, widthTicks, widthTickLabels, 'line-width-colorbar');
    const inner = mk('g', {'clip-path': clipFor(box)}, g);
    const col = v => cmap(terrainStops, (v - 30.324) / (31.717 - 30.324));
    drawHeat(inner, box, xS, yS, tSamples, R.wid, 0, col);
    drawStreaks(inner, xS, yS, R.widStreaks, col);
    frame(g, box, 'line-width-frame');
    axisTicks(g, box, xS, yS, stackXTicks, stackMinorX, stackTTicks, stackMinorT);
    stackXTicks.forEach(v => label(g, xS(v), 740 + dy, String(v), 32, 'middle', '#000', 'x-tick-label'));
    label(g, 2381, 778 + dy, 'x (Mm)', 34, 'middle', '#000', 'x-axis-title');
    label(g, 2081, 147.5 + dy, R.id, 33, 'start', '#2a1a10', 'panel-label');
  }
});
</script>
</body>
</html>
